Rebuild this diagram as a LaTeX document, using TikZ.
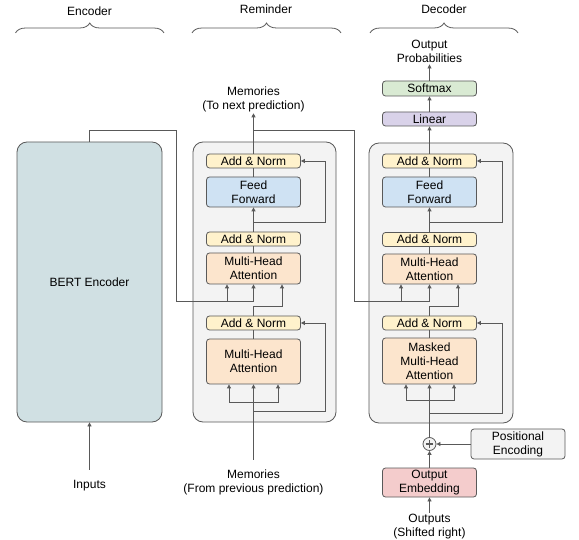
\documentclass[tikz,border=0pt]{standalone}
\usepackage{fontspec}
\setmainfont{Liberation Sans}
\usetikzlibrary{arrows.meta,decorations.pathreplacing}
\definecolor{linegray}{HTML}{595959}
\definecolor{panelfill}{HTML}{F3F3F3}
\definecolor{normfill}{HTML}{FFF2CC}
\definecolor{ffwdfill}{HTML}{CFE2F3}
\definecolor{attnfill}{HTML}{FCE5CD}
\definecolor{linfill}{HTML}{D9D2E9}
\definecolor{softfill}{HTML}{D9EAD3}
\definecolor{embfill}{HTML}{F4CCCC}
\definecolor{bertfill}{HTML}{D0E0E3}
\tikzset{
  block/.style={draw=linegray, line width=0.8pt, rounded corners=3pt, minimum width=94pt, inner sep=0pt, align=center},
  addnorm/.style={block, fill=normfill, minimum height=14pt},
  ffwd/.style={block, fill=ffwdfill, minimum height=30pt},
  attn/.style={block, fill=attnfill},
  panel/.style={draw=linegray, line width=0.8pt, fill=panelfill, rounded corners=10pt},
  lbl/.style={align=center, inner sep=1.5pt},
  conn/.style={draw=linegray, line width=0.8pt},
  arr/.style={conn, -{Triangle[length=4pt,width=4pt]}},
  brc/.style={draw=linegray, line width=0.8pt, decorate, decoration={brace, amplitude=10pt}},
}

\begin{document}
\begin{tikzpicture}[x=1pt, y=-1pt, font=\fontsize{12}{14}\selectfont]
%%%%% START %%%%%
\useasboundingbox (0,0) rectangle (579,540);

% headings
\node (enctitle) at (89.5,11) {Encoder};
\node (remtitle) at (266,9.5) {Reminder};
\node (dectitle) at (444,9.5) {Decoder};
\draw[brc] (15.5,33) -- (164,33);
\draw[brc] (192,33) -- (341,33);
\draw[brc] (370,33) -- (518,33);

% encoder
\node[panel, fill=bertfill, minimum width=145, minimum height=280] (bert) at (89.5,282) {BERT Encoder};
\node[lbl, outer ysep=9pt] (inputs) at (89.5,485.5) {Inputs};
\draw[arr] (inputs.north) -- (bert.south);

% reminder
\node[panel, minimum width=143, minimum height=280] (rpanel) at (264.5,282) {};
\node[addnorm] (rAN1) at (253.5,161) {Add \& Norm};
\node[ffwd] (rFF) at (253.5,192) {Feed\\Forward};
\node[addnorm] (rAN2) at (253.5,239) {Add \& Norm};
\node[attn, minimum height=31] (rMHA) at (253.5,268.5) {Multi-Head\\Attention};
\node[addnorm] (rAN3) at (253.5,323) {Add \& Norm};
\node[attn, minimum height=45] (rMHA2) at (253.5,361.5) {Multi-Head\\Attention};
\node[lbl, outer ysep=8pt] (memin) at (253.5,482) {Memories\\(From previous prediction)};
\node[lbl] (memout) at (253.5,99) {Memories\\(To next prediction)};

\coordinate (rsplit) at (253.5,402);
\coordinate (rres2) at (253.5,411);
\coordinate (rres2r) at (325,411);
\coordinate (rq) at (282,306);
\coordinate (rres1) at (253.5,222);
\coordinate (rres1r) at (325,222);
\coordinate (rfork) at (253.5,130);

\draw[arr] (memin.north) -- (rMHA2.south);
\draw[arr] (rsplit) -| ([xshift=-24.5pt]rMHA2.south);
\draw[arr] (rsplit) -| ([xshift=24.5pt]rMHA2.south);
\draw[arr] (rres2) -- (rres2r) |- (rAN3.east);
\draw[conn] (rMHA2.north) -- (rAN3.south);
\draw[arr] (rAN3.north) |- (rq) -- (rq |- rMHA.south);
\draw[conn] (rMHA.north) -- (rAN2.south);
\draw[arr] (rAN2.north) -- (rFF.south);
\draw[arr] (rres1) -- (rres1r) |- (rAN1.east);
\draw[conn] (rFF.north) -- (rAN1.south);
\draw[arr] (rAN1.north) -- (memout.south);

% encoder output into reminder
\coordinate (eb1) at (176,130);
\coordinate (eb2) at (176,301);
\coordinate (ek) at (227,301);
\coordinate (ev) at (253.5,301);
\draw[conn] (bert.north) |- (eb1) -- (eb2) -- (ev);
\draw[arr] (ek) -- (ek |- rMHA.south);
\draw[arr] (ev) -- (rMHA.south);

% decoder
\node[panel, minimum width=144, minimum height=280] (dpanel) at (441,283) {};
\node[addnorm] (dAN1) at (429.5,161) {Add \& Norm};
\node[ffwd] (dFF) at (429.5,192) {Feed\\Forward};
\node[addnorm] (dAN2) at (429.5,239.5) {Add \& Norm};
\node[attn, minimum height=30] (dMHA) at (429.5,269) {Multi-Head\\Attention};
\node[addnorm] (dAN3) at (429.5,323) {Add \& Norm};
\node[attn, minimum height=46] (dMMHA) at (429.5,361) {Masked\\Multi-Head\\Attention};
\node[block, fill=linfill, minimum height=14] (linear) at (429.5,119) {Linear};
\node[block, fill=softfill, minimum height=15] (softmax) at (429.5,88.5) {Softmax};
\node[lbl] (outprob) at (429.5,51.5) {Output\\Probabilities};
\node[circle, draw=linegray, line width=0.8pt, fill=panelfill, minimum size=13pt, inner sep=0pt] (plus) at (429.5,444) {};
\node[block, fill=panelfill, minimum height=30] (posenc) at (518,444) {Positional\\Encoding};
\node[block, fill=embfill, minimum height=29] (embed) at (429.5,482.5) {Output\\Embedding};
\node[lbl] (outputs) at (429.5,527) {Outputs\\(Shifted right)};

\draw[conn, line width=1.1pt] ([xshift=-3.8pt]plus.center) -- ([xshift=3.8pt]plus.center);
\draw[conn, line width=1.1pt] ([yshift=-3.8pt]plus.center) -- ([yshift=3.8pt]plus.center);

\coordinate (dsplit) at (429.5,400);
\coordinate (dres2) at (429.5,413);
\coordinate (dres2r) at (502,413);
\coordinate (dq) at (458,306);
\coordinate (dres1) at (429.5,222);
\coordinate (dres1r) at (502,222);

\draw[arr] (outputs.north) -- (embed.south);
\draw[arr] (embed.north) -- (plus.south);
\draw[arr] (posenc.west) -- (plus.east);
\draw[arr] (plus.north) -- (dMMHA.south);
\draw[arr] (dsplit) -| ([xshift=-23.5pt]dMMHA.south);
\draw[arr] (dsplit) -| ([xshift=24.5pt]dMMHA.south);
\draw[arr] (dres2) -- (dres2r) |- (dAN3.east);
\draw[conn] (dMMHA.north) -- (dAN3.south);
\draw[arr] (dAN3.north) |- (dq) -- (dq |- dMHA.south);
\draw[conn] (dMHA.north) -- (dAN2.south);
\draw[arr] (dAN2.north) -- (dFF.south);
\draw[arr] (dres1) -- (dres1r) |- (dAN1.east);
\draw[conn] (dFF.north) -- (dAN1.south);
\draw[arr] (dAN1.north) -- (linear.south);
\draw[arr] (linear.north) -- (softmax.south);
\draw[arr] (softmax.north) -- (outprob.south);

% memories into decoder
\coordinate (mb1) at (354,130);
\coordinate (mb2) at (354,301);
\coordinate (dk) at (401,301);
\coordinate (dv) at (429.5,301);
\draw[conn] (rfork) -- (mb1) -- (mb2) -- (dv);
\draw[arr] (dk) -- (dk |- dMHA.south);
\draw[arr] (dv) -- (dMHA.south);

%%%%% END %%%%%
\end{tikzpicture}
\end{document}
